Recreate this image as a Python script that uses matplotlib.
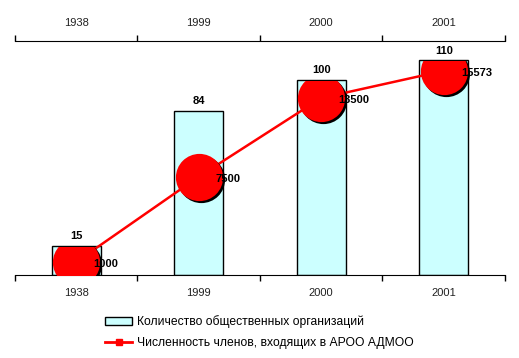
import numpy as np
import matplotlib.pyplot as plt
from matplotlib.transforms import ScaledTranslation, Bbox, TransformedBbox
from matplotlib.lines import Line2D
from matplotlib.patches import Patch

years = ['1938', '1999', '2000', '2001']
orgs = [15, 84, 100, 110]
members = [1000, 7500, 13500, 15573]
member_labels = ['1000', '7500', '13500', '15573']

plt.rcParams['font.family'] = ['Liberation Sans', 'DejaVu Sans']

fig = plt.figure(figsize=(5.19, 3.58), dpi=100)
ax = fig.add_axes([0.0289, 0.2318, 0.944, 0.6537])
x = np.arange(len(years))

# столбцы - количество организаций
ax.bar(x, orgs, width=0.4, color='#CCFFFF', edgecolor='black', linewidth=1, zorder=2)
ax.set_ylim(0, 120)
ax.set_xlim(-0.5, 3.5)
for xi, v in zip(x, orgs):
    ax.text(xi, v + 2.5, str(v), ha='center', va='bottom', fontsize=8, fontweight='bold')

# линия - численность членов
ax2 = ax.twinx()
ax2.set_ylim(0, 17850)
ax2.plot(x, members, color='red', linewidth=1.8, zorder=3)
shadow = ax2.transData + ScaledTranslation(2/100, -2/100, fig.dpi_scale_trans)
for xi, v, h in zip(x, members, orgs):
    # кружки обрезаны по верху столбца
    clip = TransformedBbox(Bbox([[xi - 0.5, 0], [xi + 0.5, h - 0.4]]), ax.transData)
    sh, = ax2.plot([xi], [v], linestyle='none', marker='o', markersize=34, color='black',
                   markeredgewidth=0, zorder=3, transform=shadow)
    mk, = ax2.plot([xi], [v], linestyle='none', marker='o', markersize=34, color='red',
                   markeredgewidth=0, zorder=4)
    sh.set_clip_box(clip)
    mk.set_clip_box(clip)
for xi, v, lab in zip(x, members, member_labels):
    ax2.text(xi + 0.14, v - 150, lab, ha='left', va='center', fontsize=8,
             fontweight='bold', zorder=5)

for a in (ax, ax2):
    for s in ('left', 'right'):
        a.spines[s].set_visible(False)
    a.set_yticks([])
ax2.spines['top'].set_visible(False)
ax2.spines['bottom'].set_visible(False)

ax.set_xticks(np.arange(-0.5, 4, 1))
ax.set_xticklabels([])
ax.set_xticks(x, minor=True)
ax.set_xticklabels(years, minor=True, fontsize=8, color='#222222')
ax.tick_params(axis='x', which='major', length=4, width=1, direction='out',
               top=True, bottom=True)
ax.tick_params(axis='x', which='minor', length=0, pad=9, top=True, labeltop=True)

handles = [Patch(facecolor='#CCFFFF', edgecolor='black',
                 label='Количество общественных организаций'),
           Line2D([0], [0], color='red', linewidth=2, marker='s', markersize=5,
                  label='Численность членов, входящих в АРОО АДМОО')]
fig.legend(handles=handles, loc='upper left', bbox_to_anchor=(0.203, 0.12), frameon=False,
           fontsize=8.7, handlelength=2.2, handletextpad=0.4, labelspacing=0.75,
           borderaxespad=0, borderpad=0)

fig.savefig('out.png', dpi=100)
